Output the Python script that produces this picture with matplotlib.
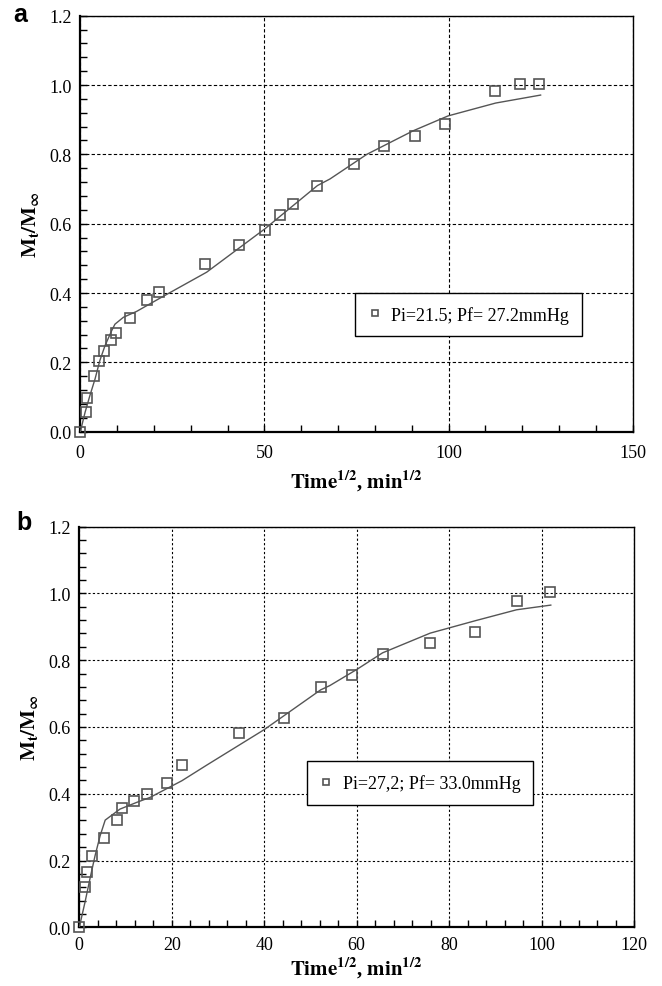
import matplotlib
matplotlib.use("Agg")
import matplotlib.pyplot as plt
from matplotlib.ticker import MultipleLocator, FormatStrFormatter

plt.rcParams['font.family'] = ['Liberation Serif', 'DejaVu Serif']
plt.rcParams['mathtext.fontset'] = 'stix'

# panel a : Pi=21.5; Pf=27.2 mmHg
a_x = [0, 1.45, 1.7, 3.6, 5.0, 6.3, 8.4, 9.7, 13.5, 18.0, 21.3, 33.9, 43.0,
       50.1, 54.2, 57.8, 64.4, 74.4, 82.4, 90.8, 99.1, 112.5, 119.5, 124.5]
a_y = [0.0, 0.056, 0.097, 0.16, 0.203, 0.233, 0.265, 0.286, 0.328, 0.381,
       0.403, 0.485, 0.538, 0.583, 0.624, 0.657, 0.709, 0.773, 0.825, 0.854,
       0.887, 0.983, 1.002, 1.002]
a_fit_x = [0, 1.3, 2.6, 4.0, 5.3, 6.7, 8.5, 9.4, 11.7, 15.3, 21.6, 34.3,
           50.1, 64.4, 67.8, 77.8, 90.4, 99.9, 112.8, 125]
a_fit_y = [0.0, 0.056, 0.104, 0.152, 0.205, 0.248, 0.291, 0.31, 0.33, 0.347,
           0.385, 0.46, 0.585, 0.71, 0.729, 0.80, 0.868, 0.911, 0.948, 0.971]

# panel b : Pi=27,2; Pf=33.0 mmHg
b_x = [0, 1.3, 1.67, 2.75, 5.3, 8.2, 9.3, 11.8, 14.6, 19.0, 22.2, 34.6, 44.3,
       52.2, 59.1, 65.6, 75.9, 85.6, 94.6, 101.8]
b_y = [0.0, 0.121, 0.165, 0.214, 0.268, 0.322, 0.356, 0.377, 0.398, 0.431,
       0.486, 0.581, 0.626, 0.719, 0.756, 0.820, 0.850, 0.883, 0.978, 1.003]
b_fit_x = [0, 1.23, 2.3, 3.4, 4.5, 5.6, 8.8, 12.4, 15.3, 22.2, 27.6, 40.0,
           52.2, 54.2, 60.0, 65.6, 75.9, 85.6, 94.6, 102]
b_fit_y = [0.0, 0.075, 0.145, 0.214, 0.274, 0.321, 0.354, 0.374, 0.389, 0.439,
           0.486, 0.592, 0.711, 0.724, 0.772, 0.822, 0.881, 0.918, 0.951, 0.965]

panels = [
    dict(letter='a', x=a_x, y=a_y, fx=a_fit_x, fy=a_fit_y, xmax=150, xmaj=50, xmin=10,
         label='Pi=21.5; Pf= 27.2mmHg', rect=[0.1213, 0.5616, 0.8344, 0.4215],
         leg=(0.703, 0.281), dash=(3, 2), letter_pos=(0.020, 0.997),
         xpad=9, xlabpad=5),
    dict(letter='b', x=b_x, y=b_y, fx=b_fit_x, fy=b_fit_y, xmax=120, xmaj=20, xmin=4,
         label='Pi=27,2; Pf= 33.0mmHg', rect=[0.1198, 0.0595, 0.8379, 0.4059],
         leg=(0.614, 0.360), dash=(2, 2), letter_pos=(0.024, 0.482),
         xpad=6, xlabpad=2),
]

fig = plt.figure(figsize=(6.62, 9.87), dpi=100)
grey = '#555555'

for p in panels:
    ax = fig.add_axes(p['rect'])
    ax.plot(p['fx'], p['fy'], '-', color=grey, lw=1.0, zorder=3)
    ax.plot(p['x'], p['y'], 's', mfc='none', mec=grey, mew=1.2, ms=6.5,
            label=p['label'], zorder=4, clip_on=False)
    ax.set_xlim(0, p['xmax'])
    ax.set_ylim(0, 1.2)
    ax.xaxis.set_major_locator(MultipleLocator(p['xmaj']))
    ax.xaxis.set_minor_locator(MultipleLocator(p['xmin']))
    ax.yaxis.set_major_locator(MultipleLocator(0.2))
    ax.yaxis.set_minor_locator(MultipleLocator(0.04))
    ax.yaxis.set_major_formatter(FormatStrFormatter('%.1f'))
    ax.tick_params(which='both', direction='in', top=False, right=False,
                   labelsize=13, width=1)
    ax.tick_params(which='major', length=5)
    ax.tick_params(which='minor', length=5)
    ax.tick_params(axis='y', which='major', pad=6)
    ax.tick_params(axis='x', which='major', pad=p['xpad'])
    ax.grid(True, which='major', color='black', lw=0.8, linestyle=(0, p['dash']))
    for s in ['left', 'bottom']:
        ax.spines[s].set_linewidth(1.6)
    for s in ['top', 'right']:
        ax.spines[s].set_linewidth(1.0)
    ax.set_xlabel(r'$\mathbf{Time^{1/2}}$, $\mathbf{min^{1/2}}$', fontsize=15,
                  fontweight='bold', labelpad=p['xlabpad'])
    ax.set_ylabel(r'$\mathbf{M_t/M_\infty}$', fontsize=15, labelpad=6)
    leg = ax.legend(loc='center', bbox_to_anchor=p['leg'], fontsize=13,
                    fancybox=False, framealpha=1, edgecolor='black',
                    markerscale=0.7, handlelength=0.8, handletextpad=0.5,
                    borderpad=0.7)
    leg.get_frame().set_linewidth(1.0)
    fig.text(p['letter_pos'][0], p['letter_pos'][1], p['letter'],
             fontsize=18, fontweight='bold', family='Liberation Sans',
             va='top', ha='left')

fig.savefig('out.png', dpi=100)
